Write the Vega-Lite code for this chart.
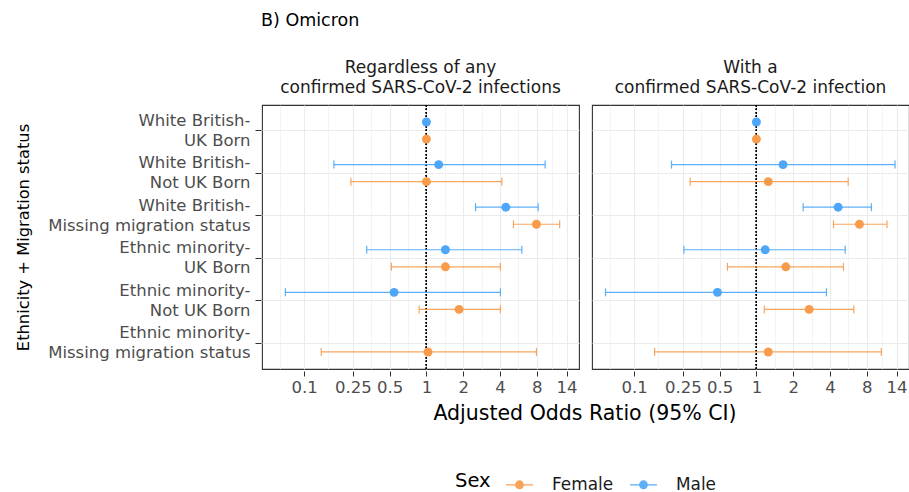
{
  "$schema": "https://vega.github.io/schema/vega-lite/v6.json",
  "padding": {"left": 15, "top": 11, "right": 0, "bottom": 0},
  "background": "white",
  "title": {"text": "B) Omicron", "anchor": "start", "fontSize": 17.5, "fontWeight": "normal", "color": "#000000", "font": "DejaVu Sans", "dx": 246, "offset": 30},
  "data": {"values": [
    {"panel": "Regardless of any|confirmed SARS-CoV-2 infections", "group": "White British-|UK Born", "sex": "Male", "or": 1, "lo": null, "hi": null},
    {"panel": "Regardless of any|confirmed SARS-CoV-2 infections", "group": "White British-|UK Born", "sex": "Female", "or": 1, "lo": null, "hi": null},
    {"panel": "Regardless of any|confirmed SARS-CoV-2 infections", "group": "White British-|Not UK Born", "sex": "Male", "or": 1.26, "lo": 0.175, "hi": 9.36},
    {"panel": "Regardless of any|confirmed SARS-CoV-2 infections", "group": "White British-|Not UK Born", "sex": "Female", "or": 1.0, "lo": 0.241, "hi": 4.14},
    {"panel": "Regardless of any|confirmed SARS-CoV-2 infections", "group": "White British-|Missing migration status", "sex": "Male", "or": 4.46, "lo": 2.52, "hi": 8.2},
    {"panel": "Regardless of any|confirmed SARS-CoV-2 infections", "group": "White British-|Missing migration status", "sex": "Female", "or": 7.94, "lo": 5.15, "hi": 12.3},
    {"panel": "Regardless of any|confirmed SARS-CoV-2 infections", "group": "Ethnic minority-|UK Born", "sex": "Male", "or": 1.43, "lo": 0.325, "hi": 6.03},
    {"panel": "Regardless of any|confirmed SARS-CoV-2 infections", "group": "Ethnic minority-|UK Born", "sex": "Female", "or": 1.43, "lo": 0.517, "hi": 4.03},
    {"panel": "Regardless of any|confirmed SARS-CoV-2 infections", "group": "Ethnic minority-|Not UK Born", "sex": "Male", "or": 0.544, "lo": 0.0702, "hi": 4.03},
    {"panel": "Regardless of any|confirmed SARS-CoV-2 infections", "group": "Ethnic minority-|Not UK Born", "sex": "Female", "or": 1.85, "lo": 0.872, "hi": 4.03},
    {"panel": "Regardless of any|confirmed SARS-CoV-2 infections", "group": "Ethnic minority-|Missing migration status", "sex": "Female", "or": 1.03, "lo": 0.138, "hi": 7.94},
    {"panel": "With a|confirmed SARS-CoV-2 infection", "group": "White British-|UK Born", "sex": "Male", "or": 1, "lo": null, "hi": null},
    {"panel": "With a|confirmed SARS-CoV-2 infection", "group": "White British-|UK Born", "sex": "Female", "or": 1, "lo": null, "hi": null},
    {"panel": "With a|confirmed SARS-CoV-2 infection", "group": "White British-|Not UK Born", "sex": "Male", "or": 1.65, "lo": 0.202, "hi": 13.6},
    {"panel": "With a|confirmed SARS-CoV-2 infection", "group": "White British-|Not UK Born", "sex": "Female", "or": 1.25, "lo": 0.287, "hi": 5.63},
    {"panel": "With a|confirmed SARS-CoV-2 infection", "group": "White British-|Missing migration status", "sex": "Male", "or": 4.66, "lo": 2.41, "hi": 8.72},
    {"panel": "With a|confirmed SARS-CoV-2 infection", "group": "White British-|Missing migration status", "sex": "Female", "or": 6.96, "lo": 4.27, "hi": 11.7},
    {"panel": "With a|confirmed SARS-CoV-2 infection", "group": "Ethnic minority-|UK Born", "sex": "Male", "or": 1.18, "lo": 0.255, "hi": 5.32},
    {"panel": "With a|confirmed SARS-CoV-2 infection", "group": "Ethnic minority-|UK Born", "sex": "Female", "or": 1.74, "lo": 0.579, "hi": 5.15},
    {"panel": "With a|confirmed SARS-CoV-2 infection", "group": "Ethnic minority-|Not UK Born", "sex": "Male", "or": 0.48, "lo": 0.0583, "hi": 3.74},
    {"panel": "With a|confirmed SARS-CoV-2 infection", "group": "Ethnic minority-|Not UK Born", "sex": "Female", "or": 2.7, "lo": 1.16, "hi": 6.26},
    {"panel": "With a|confirmed SARS-CoV-2 infection", "group": "Ethnic minority-|Missing migration status", "sex": "Female", "or": 1.25, "lo": 0.147, "hi": 10.5}
  ]},
  "facet": {
    "column": {
      "field": "panel", "type": "nominal", "title": "Adjusted Odds Ratio (95% CI)",
      "sort": ["Regardless of any|confirmed SARS-CoV-2 infections", "With a|confirmed SARS-CoV-2 infection"],
      "header": {"labelOrient": "top", "titleOrient": "bottom", "titleFontSize": 20.5, "titleFontWeight": "normal", "titleColor": "#000000", "titlePadding": -2, "titleFont": "DejaVu Sans",
        "labelExpr": "split(datum.value, '|')", "labelFontSize": 17, "labelColor": "#1A1A1A", "labelLineHeight": 20, "labelPadding": 6, "labelFont": "DejaVu Sans"}
    }
  },
  "spacing": 11,
  "spec": {
    "width": 317,
    "height": 264,
    "encoding": {
      "y": {
        "field": "group", "type": "nominal",
        "sort": ["White British-|UK Born", "White British-|Not UK Born", "White British-|Missing migration status", "Ethnic minority-|UK Born", "Ethnic minority-|Not UK Born", "Ethnic minority-|Missing migration status"],
        "scale": {"paddingInner": 0, "paddingOuter": 0.1},
        "axis": {"title": "Ethnicity + Migration status", "titleFontSize": 16.3, "titleColor": "#000000", "titleFontWeight": "normal", "titlePadding": 30,
          "labelExpr": "split(datum.value, '|')", "labelFontSize": 16.5, "labelColor": "#4D4D4D", "labelLineHeight": 20, "labelPadding": 5, "labelLimit": 0, "labelOffset": -10,
          "tickSize": 6, "tickColor": "#333333", "domain": false, "grid": true, "gridColor": "#EBEBEB", "gridWidth": 1.1, "bandPosition": 0.5}
      },
      "yOffset": {"field": "sex", "type": "nominal", "sort": ["Male", "Female"], "scale": {"paddingInner": 0, "paddingOuter": 0.25}},
      "color": {"field": "sex", "type": "nominal", "title": "Sex",
        "scale": {"domain": ["Female", "Male"], "range": ["#F89B4B", "#4DA6F8"]}}
    },
    "layer": [
      {
        "mark": {"type": "rule", "strokeDash": [1.5, 2], "color": "#000000", "strokeWidth": 1.1},
        "encoding": {"x": {"datum": 1, "type": "quantitative", "scale": {"type": "log", "domain": [0.0452, 17.7], "nice": false}}, "y": null, "yOffset": null, "color": null}
      },
      {
        "mark": {"type": "rule", "strokeWidth": 1.2, "opacity": 0.9},
        "encoding": {
          "x": {"field": "lo", "type": "quantitative", "scale": {"type": "log", "domain": [0.0452, 17.7], "nice": false},
            "axis": {"title": null,
              "values": [0.0632, 0.1, 0.158, 0.25, 0.354, 0.5, 0.707, 1, 1.414, 2, 2.83, 4, 5.66, 8, 10.58, 14],
              "labelExpr": "indexof([0.1,0.25,0.5,1,2,4,8,14], datum.value) >= 0 ? '' + datum.value : ''",
              "labelFontSize": 16.5, "labelColor": "#4D4D4D", "labelOverlap": false, "labelFlush": false, "labelBound": false, "labelPadding": 3,
              "tickSize": 5, "tickColor": "#333333",
              "tickOpacity": {"condition": {"test": "indexof([0.1,0.25,0.5,1,2,4,8,14], datum.value) >= 0", "value": 1}, "value": 0},
              "domain": false, "grid": true, "gridColor": "#EBEBEB",
              "gridWidth": {"condition": {"test": "indexof([0.1,0.25,0.5,1,2,4,8,14], datum.value) >= 0", "value": 1.1}, "value": 0.6}}},
          "x2": {"field": "hi"}
        }
      },
      {
        "mark": {"type": "tick", "thickness": 1.2, "size": 8, "opacity": 0.9},
        "encoding": {"x": {"field": "lo", "type": "quantitative"}}
      },
      {
        "mark": {"type": "tick", "thickness": 1.2, "size": 8, "opacity": 0.9},
        "encoding": {"x": {"field": "hi", "type": "quantitative"}}
      },
      {
        "mark": {"type": "circle", "size": 80, "opacity": 1},
        "encoding": {"x": {"field": "or", "type": "quantitative"}}
      }
    ]
  },
  "resolve": {"scale": {"x": "shared", "y": "shared"}},
  "config": {
    "font": "DejaVu Sans",
    "view": {"stroke": "#333333", "strokeWidth": 1.1},
    "legend": {
      "orient": "none", "legendX": 193, "legendY": 365, "direction": "horizontal", "titleOrient": "left",
      "titleFontSize": 19.5, "titleFontWeight": "normal", "titleColor": "#000000", "titlePadding": 14,
      "labelFontSize": 16.9, "labelColor": "#1A1A1A", "columnPadding": 13, "labelOffset": 18,
      "symbolType": "M-1,0L1,0M0.28,0A0.28,0.28,0,1,1,-0.28,0A0.28,0.28,0,1,1,0.28,0Z",
      "symbolSize": 729, "symbolStrokeWidth": 1.3
    }
  }
}
